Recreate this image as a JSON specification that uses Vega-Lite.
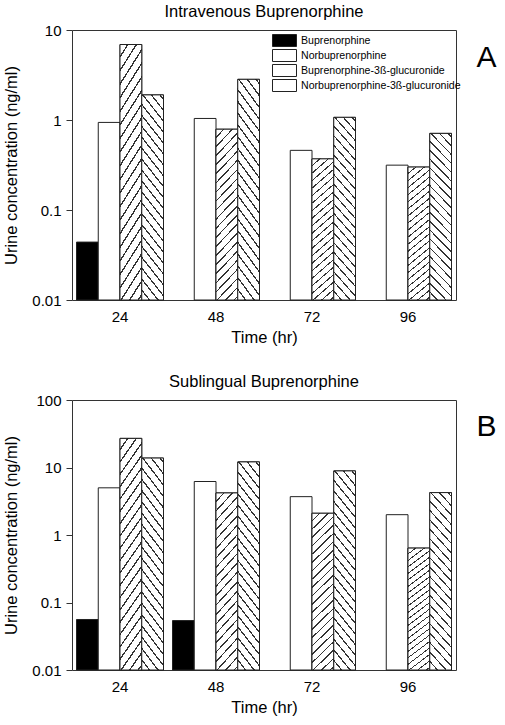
{
  "$schema": "https://vega.github.io/schema/vega-lite/v6.json",
  "padding": {"left": 3, "top": 3, "right": 5, "bottom": 5},
  "spacing": 27,
  "config": {
    "font": "Liberation Sans",
    "view": {"stroke": "#333", "strokeWidth": 1},
    "axis": {"labelFont": "Liberation Sans", "titleFont": "Liberation Sans", "labelColor": "black", "titleColor": "black", "titleFontWeight": "normal", "grid": false, "domainColor": "#333", "tickColor": "#333", "labelFontSize": 15, "titleFontSize": 16.5},
    "title": {"font": "Liberation Sans", "fontSize": 16.5, "fontWeight": "normal", "color": "black", "offset": 3},
    "legend": {"labelFont": "Liberation Sans"}
  },
  "datasets": {
    "iv": [
      {"time": 24, "series": "Buprenorphine", "value": 0.044},
      {"time": 24, "series": "Norbuprenorphine", "value": 0.94},
      {"time": 24, "series": "Buprenorphine-3ß-glucuronide", "value": 6.9},
      {"time": 24, "series": "Norbuprenorphine-3ß-glucuronide", "value": 1.9},
      {"time": 48, "series": "Norbuprenorphine", "value": 1.04},
      {"time": 48, "series": "Buprenorphine-3ß-glucuronide", "value": 0.79},
      {"time": 48, "series": "Norbuprenorphine-3ß-glucuronide", "value": 2.83},
      {"time": 72, "series": "Norbuprenorphine", "value": 0.46},
      {"time": 72, "series": "Buprenorphine-3ß-glucuronide", "value": 0.37},
      {"time": 72, "series": "Norbuprenorphine-3ß-glucuronide", "value": 1.07},
      {"time": 96, "series": "Norbuprenorphine", "value": 0.315},
      {"time": 96, "series": "Buprenorphine-3ß-glucuronide", "value": 0.3},
      {"time": 96, "series": "Norbuprenorphine-3ß-glucuronide", "value": 0.71}
    ],
    "sl": [
      {"time": 24, "series": "Buprenorphine", "value": 0.056},
      {"time": 24, "series": "Norbuprenorphine", "value": 5.0},
      {"time": 24, "series": "Buprenorphine-3ß-glucuronide", "value": 27},
      {"time": 24, "series": "Norbuprenorphine-3ß-glucuronide", "value": 13.8},
      {"time": 48, "series": "Buprenorphine", "value": 0.054},
      {"time": 48, "series": "Norbuprenorphine", "value": 6.2},
      {"time": 48, "series": "Buprenorphine-3ß-glucuronide", "value": 4.2},
      {"time": 48, "series": "Norbuprenorphine-3ß-glucuronide", "value": 12.1},
      {"time": 72, "series": "Norbuprenorphine", "value": 3.7},
      {"time": 72, "series": "Buprenorphine-3ß-glucuronide", "value": 2.1},
      {"time": 72, "series": "Norbuprenorphine-3ß-glucuronide", "value": 8.9},
      {"time": 96, "series": "Norbuprenorphine", "value": 2.0},
      {"time": 96, "series": "Buprenorphine-3ß-glucuronide", "value": 0.64},
      {"time": 96, "series": "Norbuprenorphine-3ß-glucuronide", "value": 4.25}
    ]
  },
  "vconcat": [
    {
      "width": 384, "height": 270,
      "title": {"text": "Intravenous Buprenorphine"},
      "data": {"name": "iv"},
      "encoding": {
        "x": {"field": "time", "type": "ordinal", "scale": {"paddingInner": 0.09375, "paddingOuter": 0.046875},
              "axis": {"title": "Time (hr)", "labelAngle": 0, "ticks": false, "domain": false, "labelPadding": 9, "titlePadding": 5}},
        "xOffset": {"field": "series", "type": "nominal", "scale": {"domain": ["Buprenorphine", "Norbuprenorphine", "Buprenorphine-3ß-glucuronide", "Norbuprenorphine-3ß-glucuronide"], "paddingInner": 0, "paddingOuter": 0}}
      },
      "layer": [
        {
          "encoding": {
            "y": {"field": "value", "type": "quantitative", "scale": {"type": "log", "domain": [0.01, 10], "nice": false},
                  "axis": {"title": "Urine concentration (ng/ml)", "values": [0.01, 0.1, 1, 10], "format": "~g", "tickSize": 6, "labelPadding": 5, "titlePadding": 12, "domain": false}},
            "y2": {"datum": 0.01}
          },
          "layer": [
            {
              "mark": {"type": "bar", "stroke": "#222", "strokeWidth": 1},
              "encoding": {
                "fill": {"field": "series", "type": "nominal",
                  "scale": {"domain": ["Buprenorphine", "Norbuprenorphine", "Buprenorphine-3ß-glucuronide", "Norbuprenorphine-3ß-glucuronide"], "range": ["black", "white", "white", "white"]},
                  "legend": {
                    "orient": "none", "legendX": 200, "legendY": 3, "title": null,
                    "symbolType": "M-1,-1H3V1H-1Z", "symbolSize": 144,
                    "symbolStrokeColor": "#222", "symbolStrokeWidth": 1, "symbolOpacity": 1,
                    "labelFontSize": 10.6, "labelColor": "black", "labelOffset": 16, "rowPadding": 0, "clipHeight": 15, "labelLimit": 300,
                    "encode": {"symbols": {"update": {
                      "stroke": {"value": "#222"}, "strokeWidth": {"value": 1}, "opacity": {"value": 1}, "fillOpacity": {"value": 1},
                      "fill": [
                      {"test": "datum.value === 'Buprenorphine-3ß-glucuronide'", "value": {"gradient": "linear", "x1": 0, "y1": 0, "x2": 1.2, "y2": 0.6, "stops": [
                        {"offset": 0, "color": "#fff"}, {"offset": 0.19, "color": "#fff"}, {"offset": 0.19, "color": "#333"}, {"offset": 0.26, "color": "#333"},
                        {"offset": 0.26, "color": "#fff"}, {"offset": 0.44, "color": "#fff"}, {"offset": 0.44, "color": "#333"}, {"offset": 0.51, "color": "#333"},
                        {"offset": 0.51, "color": "#fff"}, {"offset": 0.69, "color": "#fff"}, {"offset": 0.69, "color": "#333"}, {"offset": 0.76, "color": "#333"},
                        {"offset": 0.76, "color": "#fff"}, {"offset": 1, "color": "#fff"}]}},
                      {"test": "datum.value === 'Norbuprenorphine-3ß-glucuronide'", "value": {"gradient": "linear", "x1": 0, "y1": 1, "x2": 1.2, "y2": 0.4, "stops": [
                        {"offset": 0, "color": "#fff"}, {"offset": 0.19, "color": "#fff"}, {"offset": 0.19, "color": "#333"}, {"offset": 0.26, "color": "#333"},
                        {"offset": 0.26, "color": "#fff"}, {"offset": 0.44, "color": "#fff"}, {"offset": 0.44, "color": "#333"}, {"offset": 0.51, "color": "#333"},
                        {"offset": 0.51, "color": "#fff"}, {"offset": 0.69, "color": "#fff"}, {"offset": 0.69, "color": "#333"}, {"offset": 0.76, "color": "#333"},
                        {"offset": 0.76, "color": "#fff"}, {"offset": 1, "color": "#fff"}]}},
                      {"test": "datum.value === 'Buprenorphine'", "value": "black"},
                      {"value": "white"}
                    ]}}}
                  }
                }
              }
            },
            {
              "transform": [{"filter": "datum.series === 'Buprenorphine-3ß-glucuronide'"}],
              "mark": {"type": "bar", "stroke": "#222", "strokeWidth": 1, "fill": {"gradient": "linear", "x1": 0, "y1": 0, "x2": 0.155, "y2": 1.15, "stops": [
        {"offset": 0, "color": "#fff"}, {"offset": 0.0373, "color": "#fff"}, {"offset": 0.0373, "color": "#333"}, {"offset": 0.0455, "color": "#333"},
        {"offset": 0.0455, "color": "#fff"}, {"offset": 0.0827, "color": "#fff"}, {"offset": 0.0827, "color": "#333"}, {"offset": 0.0909, "color": "#333"},
        {"offset": 0.0909, "color": "#fff"}, {"offset": 0.1282, "color": "#fff"}, {"offset": 0.1282, "color": "#333"}, {"offset": 0.1364, "color": "#333"},
        {"offset": 0.1364, "color": "#fff"}, {"offset": 0.1736, "color": "#fff"}, {"offset": 0.1736, "color": "#333"}, {"offset": 0.1818, "color": "#333"},
        {"offset": 0.1818, "color": "#fff"}, {"offset": 0.2191, "color": "#fff"}, {"offset": 0.2191, "color": "#333"}, {"offset": 0.2273, "color": "#333"},
        {"offset": 0.2273, "color": "#fff"}, {"offset": 0.2645, "color": "#fff"}, {"offset": 0.2645, "color": "#333"}, {"offset": 0.2727, "color": "#333"},
        {"offset": 0.2727, "color": "#fff"}, {"offset": 0.31, "color": "#fff"}, {"offset": 0.31, "color": "#333"}, {"offset": 0.3182, "color": "#333"},
        {"offset": 0.3182, "color": "#fff"}, {"offset": 0.3555, "color": "#fff"}, {"offset": 0.3555, "color": "#333"}, {"offset": 0.3636, "color": "#333"},
        {"offset": 0.3636, "color": "#fff"}, {"offset": 0.4009, "color": "#fff"}, {"offset": 0.4009, "color": "#333"}, {"offset": 0.4091, "color": "#333"},
        {"offset": 0.4091, "color": "#fff"}, {"offset": 0.4464, "color": "#fff"}, {"offset": 0.4464, "color": "#333"}, {"offset": 0.4545, "color": "#333"},
        {"offset": 0.4545, "color": "#fff"}, {"offset": 0.4918, "color": "#fff"}, {"offset": 0.4918, "color": "#333"}, {"offset": 0.5, "color": "#333"},
        {"offset": 0.5, "color": "#fff"}, {"offset": 0.5373, "color": "#fff"}, {"offset": 0.5373, "color": "#333"}, {"offset": 0.5455, "color": "#333"},
        {"offset": 0.5455, "color": "#fff"}, {"offset": 0.5827, "color": "#fff"}, {"offset": 0.5827, "color": "#333"}, {"offset": 0.5909, "color": "#333"},
        {"offset": 0.5909, "color": "#fff"}, {"offset": 0.6282, "color": "#fff"}, {"offset": 0.6282, "color": "#333"}, {"offset": 0.6364, "color": "#333"},
        {"offset": 0.6364, "color": "#fff"}, {"offset": 0.6736, "color": "#fff"}, {"offset": 0.6736, "color": "#333"}, {"offset": 0.6818, "color": "#333"},
        {"offset": 0.6818, "color": "#fff"}, {"offset": 0.7191, "color": "#fff"}, {"offset": 0.7191, "color": "#333"}, {"offset": 0.7273, "color": "#333"},
        {"offset": 0.7273, "color": "#fff"}, {"offset": 0.7645, "color": "#fff"}, {"offset": 0.7645, "color": "#333"}, {"offset": 0.7727, "color": "#333"},
        {"offset": 0.7727, "color": "#fff"}, {"offset": 0.81, "color": "#fff"}, {"offset": 0.81, "color": "#333"}, {"offset": 0.8182, "color": "#333"},
        {"offset": 0.8182, "color": "#fff"}, {"offset": 0.8555, "color": "#fff"}, {"offset": 0.8555, "color": "#333"}, {"offset": 0.8636, "color": "#333"},
        {"offset": 0.8636, "color": "#fff"}, {"offset": 0.9009, "color": "#fff"}, {"offset": 0.9009, "color": "#333"}, {"offset": 0.9091, "color": "#333"},
        {"offset": 0.9091, "color": "#fff"}, {"offset": 0.9464, "color": "#fff"}, {"offset": 0.9464, "color": "#333"}, {"offset": 0.9545, "color": "#333"},
        {"offset": 0.9545, "color": "#fff"}, {"offset": 0.9918, "color": "#fff"}, {"offset": 0.9918, "color": "#333"}, {"offset": 1, "color": "#333"}
      ]}}
            },
            {
              "transform": [{"filter": "datum.series === 'Norbuprenorphine-3ß-glucuronide'"}],
              "mark": {"type": "bar", "stroke": "#222", "strokeWidth": 1, "fill": {"gradient": "linear", "x1": 0, "y1": 1, "x2": 0.155, "y2": -0.15, "stops": [
        {"offset": 0, "color": "#fff"}, {"offset": 0.0373, "color": "#fff"}, {"offset": 0.0373, "color": "#333"}, {"offset": 0.0455, "color": "#333"},
        {"offset": 0.0455, "color": "#fff"}, {"offset": 0.0827, "color": "#fff"}, {"offset": 0.0827, "color": "#333"}, {"offset": 0.0909, "color": "#333"},
        {"offset": 0.0909, "color": "#fff"}, {"offset": 0.1282, "color": "#fff"}, {"offset": 0.1282, "color": "#333"}, {"offset": 0.1364, "color": "#333"},
        {"offset": 0.1364, "color": "#fff"}, {"offset": 0.1736, "color": "#fff"}, {"offset": 0.1736, "color": "#333"}, {"offset": 0.1818, "color": "#333"},
        {"offset": 0.1818, "color": "#fff"}, {"offset": 0.2191, "color": "#fff"}, {"offset": 0.2191, "color": "#333"}, {"offset": 0.2273, "color": "#333"},
        {"offset": 0.2273, "color": "#fff"}, {"offset": 0.2645, "color": "#fff"}, {"offset": 0.2645, "color": "#333"}, {"offset": 0.2727, "color": "#333"},
        {"offset": 0.2727, "color": "#fff"}, {"offset": 0.31, "color": "#fff"}, {"offset": 0.31, "color": "#333"}, {"offset": 0.3182, "color": "#333"},
        {"offset": 0.3182, "color": "#fff"}, {"offset": 0.3555, "color": "#fff"}, {"offset": 0.3555, "color": "#333"}, {"offset": 0.3636, "color": "#333"},
        {"offset": 0.3636, "color": "#fff"}, {"offset": 0.4009, "color": "#fff"}, {"offset": 0.4009, "color": "#333"}, {"offset": 0.4091, "color": "#333"},
        {"offset": 0.4091, "color": "#fff"}, {"offset": 0.4464, "color": "#fff"}, {"offset": 0.4464, "color": "#333"}, {"offset": 0.4545, "color": "#333"},
        {"offset": 0.4545, "color": "#fff"}, {"offset": 0.4918, "color": "#fff"}, {"offset": 0.4918, "color": "#333"}, {"offset": 0.5, "color": "#333"},
        {"offset": 0.5, "color": "#fff"}, {"offset": 0.5373, "color": "#fff"}, {"offset": 0.5373, "color": "#333"}, {"offset": 0.5455, "color": "#333"},
        {"offset": 0.5455, "color": "#fff"}, {"offset": 0.5827, "color": "#fff"}, {"offset": 0.5827, "color": "#333"}, {"offset": 0.5909, "color": "#333"},
        {"offset": 0.5909, "color": "#fff"}, {"offset": 0.6282, "color": "#fff"}, {"offset": 0.6282, "color": "#333"}, {"offset": 0.6364, "color": "#333"},
        {"offset": 0.6364, "color": "#fff"}, {"offset": 0.6736, "color": "#fff"}, {"offset": 0.6736, "color": "#333"}, {"offset": 0.6818, "color": "#333"},
        {"offset": 0.6818, "color": "#fff"}, {"offset": 0.7191, "color": "#fff"}, {"offset": 0.7191, "color": "#333"}, {"offset": 0.7273, "color": "#333"},
        {"offset": 0.7273, "color": "#fff"}, {"offset": 0.7645, "color": "#fff"}, {"offset": 0.7645, "color": "#333"}, {"offset": 0.7727, "color": "#333"},
        {"offset": 0.7727, "color": "#fff"}, {"offset": 0.81, "color": "#fff"}, {"offset": 0.81, "color": "#333"}, {"offset": 0.8182, "color": "#333"},
        {"offset": 0.8182, "color": "#fff"}, {"offset": 0.8555, "color": "#fff"}, {"offset": 0.8555, "color": "#333"}, {"offset": 0.8636, "color": "#333"},
        {"offset": 0.8636, "color": "#fff"}, {"offset": 0.9009, "color": "#fff"}, {"offset": 0.9009, "color": "#333"}, {"offset": 0.9091, "color": "#333"},
        {"offset": 0.9091, "color": "#fff"}, {"offset": 0.9464, "color": "#fff"}, {"offset": 0.9464, "color": "#333"}, {"offset": 0.9545, "color": "#333"},
        {"offset": 0.9545, "color": "#fff"}, {"offset": 0.9918, "color": "#fff"}, {"offset": 0.9918, "color": "#333"}, {"offset": 1, "color": "#333"}
      ]}}
            }
          ]
        },
        {
          "mark": {"type": "point", "opacity": 0},
          "encoding": {
            "y": {"field": "value", "type": "quantitative", "scale": {"type": "log", "domain": [0.01, 10], "nice": false},
                  "axis": {"orient": "right", "title": "A", "domain": false, "ticks": false, "labels": false, "titleAngle": 0, "titleFontSize": 30, "titleX": 30, "titleY": 27, "titleAlign": "center", "titleBaseline": "middle"}}
          }
        }
      ],
      "resolve": {"axis": {"y": "independent"}}
    },
    {
      "width": 384, "height": 270,
      "title": {"text": "Sublingual Buprenorphine"},
      "data": {"name": "sl"},
      "encoding": {
        "x": {"field": "time", "type": "ordinal", "scale": {"paddingInner": 0.09375, "paddingOuter": 0.046875},
              "axis": {"title": "Time (hr)", "labelAngle": 0, "ticks": false, "domain": false, "labelPadding": 9, "titlePadding": 5}},
        "xOffset": {"field": "series", "type": "nominal", "scale": {"domain": ["Buprenorphine", "Norbuprenorphine", "Buprenorphine-3ß-glucuronide", "Norbuprenorphine-3ß-glucuronide"], "paddingInner": 0, "paddingOuter": 0}}
      },
      "layer": [
        {
          "encoding": {
            "y": {"field": "value", "type": "quantitative", "scale": {"type": "log", "domain": [0.01, 100], "nice": false},
                  "axis": {"title": "Urine concentration (ng/ml)", "values": [0.01, 0.1, 1, 10, 100], "format": "~g", "tickSize": 6, "labelPadding": 5, "titlePadding": 12, "domain": false}},
            "y2": {"datum": 0.01}
          },
          "layer": [
            {
              "mark": {"type": "bar", "stroke": "#222", "strokeWidth": 1},
              "encoding": {
                "fill": {"condition": {"test": "datum.series === 'Buprenorphine'", "value": "black"}, "value": "white"}
              }
            },
            {
              "transform": [{"filter": "datum.series === 'Buprenorphine-3ß-glucuronide'"}],
              "mark": {"type": "bar", "stroke": "#222", "strokeWidth": 1, "fill": {"gradient": "linear", "x1": 0, "y1": 0, "x2": 0.155, "y2": 1.15, "stops": [
        {"offset": 0, "color": "#fff"}, {"offset": 0.0373, "color": "#fff"}, {"offset": 0.0373, "color": "#333"}, {"offset": 0.0455, "color": "#333"},
        {"offset": 0.0455, "color": "#fff"}, {"offset": 0.0827, "color": "#fff"}, {"offset": 0.0827, "color": "#333"}, {"offset": 0.0909, "color": "#333"},
        {"offset": 0.0909, "color": "#fff"}, {"offset": 0.1282, "color": "#fff"}, {"offset": 0.1282, "color": "#333"}, {"offset": 0.1364, "color": "#333"},
        {"offset": 0.1364, "color": "#fff"}, {"offset": 0.1736, "color": "#fff"}, {"offset": 0.1736, "color": "#333"}, {"offset": 0.1818, "color": "#333"},
        {"offset": 0.1818, "color": "#fff"}, {"offset": 0.2191, "color": "#fff"}, {"offset": 0.2191, "color": "#333"}, {"offset": 0.2273, "color": "#333"},
        {"offset": 0.2273, "color": "#fff"}, {"offset": 0.2645, "color": "#fff"}, {"offset": 0.2645, "color": "#333"}, {"offset": 0.2727, "color": "#333"},
        {"offset": 0.2727, "color": "#fff"}, {"offset": 0.31, "color": "#fff"}, {"offset": 0.31, "color": "#333"}, {"offset": 0.3182, "color": "#333"},
        {"offset": 0.3182, "color": "#fff"}, {"offset": 0.3555, "color": "#fff"}, {"offset": 0.3555, "color": "#333"}, {"offset": 0.3636, "color": "#333"},
        {"offset": 0.3636, "color": "#fff"}, {"offset": 0.4009, "color": "#fff"}, {"offset": 0.4009, "color": "#333"}, {"offset": 0.4091, "color": "#333"},
        {"offset": 0.4091, "color": "#fff"}, {"offset": 0.4464, "color": "#fff"}, {"offset": 0.4464, "color": "#333"}, {"offset": 0.4545, "color": "#333"},
        {"offset": 0.4545, "color": "#fff"}, {"offset": 0.4918, "color": "#fff"}, {"offset": 0.4918, "color": "#333"}, {"offset": 0.5, "color": "#333"},
        {"offset": 0.5, "color": "#fff"}, {"offset": 0.5373, "color": "#fff"}, {"offset": 0.5373, "color": "#333"}, {"offset": 0.5455, "color": "#333"},
        {"offset": 0.5455, "color": "#fff"}, {"offset": 0.5827, "color": "#fff"}, {"offset": 0.5827, "color": "#333"}, {"offset": 0.5909, "color": "#333"},
        {"offset": 0.5909, "color": "#fff"}, {"offset": 0.6282, "color": "#fff"}, {"offset": 0.6282, "color": "#333"}, {"offset": 0.6364, "color": "#333"},
        {"offset": 0.6364, "color": "#fff"}, {"offset": 0.6736, "color": "#fff"}, {"offset": 0.6736, "color": "#333"}, {"offset": 0.6818, "color": "#333"},
        {"offset": 0.6818, "color": "#fff"}, {"offset": 0.7191, "color": "#fff"}, {"offset": 0.7191, "color": "#333"}, {"offset": 0.7273, "color": "#333"},
        {"offset": 0.7273, "color": "#fff"}, {"offset": 0.7645, "color": "#fff"}, {"offset": 0.7645, "color": "#333"}, {"offset": 0.7727, "color": "#333"},
        {"offset": 0.7727, "color": "#fff"}, {"offset": 0.81, "color": "#fff"}, {"offset": 0.81, "color": "#333"}, {"offset": 0.8182, "color": "#333"},
        {"offset": 0.8182, "color": "#fff"}, {"offset": 0.8555, "color": "#fff"}, {"offset": 0.8555, "color": "#333"}, {"offset": 0.8636, "color": "#333"},
        {"offset": 0.8636, "color": "#fff"}, {"offset": 0.9009, "color": "#fff"}, {"offset": 0.9009, "color": "#333"}, {"offset": 0.9091, "color": "#333"},
        {"offset": 0.9091, "color": "#fff"}, {"offset": 0.9464, "color": "#fff"}, {"offset": 0.9464, "color": "#333"}, {"offset": 0.9545, "color": "#333"},
        {"offset": 0.9545, "color": "#fff"}, {"offset": 0.9918, "color": "#fff"}, {"offset": 0.9918, "color": "#333"}, {"offset": 1, "color": "#333"}
      ]}}
            },
            {
              "transform": [{"filter": "datum.series === 'Norbuprenorphine-3ß-glucuronide'"}],
              "mark": {"type": "bar", "stroke": "#222", "strokeWidth": 1, "fill": {"gradient": "linear", "x1": 0, "y1": 1, "x2": 0.155, "y2": -0.15, "stops": [
        {"offset": 0, "color": "#fff"}, {"offset": 0.0373, "color": "#fff"}, {"offset": 0.0373, "color": "#333"}, {"offset": 0.0455, "color": "#333"},
        {"offset": 0.0455, "color": "#fff"}, {"offset": 0.0827, "color": "#fff"}, {"offset": 0.0827, "color": "#333"}, {"offset": 0.0909, "color": "#333"},
        {"offset": 0.0909, "color": "#fff"}, {"offset": 0.1282, "color": "#fff"}, {"offset": 0.1282, "color": "#333"}, {"offset": 0.1364, "color": "#333"},
        {"offset": 0.1364, "color": "#fff"}, {"offset": 0.1736, "color": "#fff"}, {"offset": 0.1736, "color": "#333"}, {"offset": 0.1818, "color": "#333"},
        {"offset": 0.1818, "color": "#fff"}, {"offset": 0.2191, "color": "#fff"}, {"offset": 0.2191, "color": "#333"}, {"offset": 0.2273, "color": "#333"},
        {"offset": 0.2273, "color": "#fff"}, {"offset": 0.2645, "color": "#fff"}, {"offset": 0.2645, "color": "#333"}, {"offset": 0.2727, "color": "#333"},
        {"offset": 0.2727, "color": "#fff"}, {"offset": 0.31, "color": "#fff"}, {"offset": 0.31, "color": "#333"}, {"offset": 0.3182, "color": "#333"},
        {"offset": 0.3182, "color": "#fff"}, {"offset": 0.3555, "color": "#fff"}, {"offset": 0.3555, "color": "#333"}, {"offset": 0.3636, "color": "#333"},
        {"offset": 0.3636, "color": "#fff"}, {"offset": 0.4009, "color": "#fff"}, {"offset": 0.4009, "color": "#333"}, {"offset": 0.4091, "color": "#333"},
        {"offset": 0.4091, "color": "#fff"}, {"offset": 0.4464, "color": "#fff"}, {"offset": 0.4464, "color": "#333"}, {"offset": 0.4545, "color": "#333"},
        {"offset": 0.4545, "color": "#fff"}, {"offset": 0.4918, "color": "#fff"}, {"offset": 0.4918, "color": "#333"}, {"offset": 0.5, "color": "#333"},
        {"offset": 0.5, "color": "#fff"}, {"offset": 0.5373, "color": "#fff"}, {"offset": 0.5373, "color": "#333"}, {"offset": 0.5455, "color": "#333"},
        {"offset": 0.5455, "color": "#fff"}, {"offset": 0.5827, "color": "#fff"}, {"offset": 0.5827, "color": "#333"}, {"offset": 0.5909, "color": "#333"},
        {"offset": 0.5909, "color": "#fff"}, {"offset": 0.6282, "color": "#fff"}, {"offset": 0.6282, "color": "#333"}, {"offset": 0.6364, "color": "#333"},
        {"offset": 0.6364, "color": "#fff"}, {"offset": 0.6736, "color": "#fff"}, {"offset": 0.6736, "color": "#333"}, {"offset": 0.6818, "color": "#333"},
        {"offset": 0.6818, "color": "#fff"}, {"offset": 0.7191, "color": "#fff"}, {"offset": 0.7191, "color": "#333"}, {"offset": 0.7273, "color": "#333"},
        {"offset": 0.7273, "color": "#fff"}, {"offset": 0.7645, "color": "#fff"}, {"offset": 0.7645, "color": "#333"}, {"offset": 0.7727, "color": "#333"},
        {"offset": 0.7727, "color": "#fff"}, {"offset": 0.81, "color": "#fff"}, {"offset": 0.81, "color": "#333"}, {"offset": 0.8182, "color": "#333"},
        {"offset": 0.8182, "color": "#fff"}, {"offset": 0.8555, "color": "#fff"}, {"offset": 0.8555, "color": "#333"}, {"offset": 0.8636, "color": "#333"},
        {"offset": 0.8636, "color": "#fff"}, {"offset": 0.9009, "color": "#fff"}, {"offset": 0.9009, "color": "#333"}, {"offset": 0.9091, "color": "#333"},
        {"offset": 0.9091, "color": "#fff"}, {"offset": 0.9464, "color": "#fff"}, {"offset": 0.9464, "color": "#333"}, {"offset": 0.9545, "color": "#333"},
        {"offset": 0.9545, "color": "#fff"}, {"offset": 0.9918, "color": "#fff"}, {"offset": 0.9918, "color": "#333"}, {"offset": 1, "color": "#333"}
      ]}}
            }
          ]
        },
        {
          "mark": {"type": "point", "opacity": 0},
          "encoding": {
            "y": {"field": "value", "type": "quantitative", "scale": {"type": "log", "domain": [0.01, 100], "nice": false},
                  "axis": {"orient": "right", "title": "B", "domain": false, "ticks": false, "labels": false, "titleAngle": 0, "titleFontSize": 30, "titleX": 30, "titleY": 26, "titleAlign": "center", "titleBaseline": "middle"}}
          }
        }
      ],
      "resolve": {"axis": {"y": "independent"}}
    }
  ],
  "resolve": {"scale": {"x": "independent", "xOffset": "independent", "y": "independent", "fill": "independent"}, "legend": {"fill": "independent"}}
}
